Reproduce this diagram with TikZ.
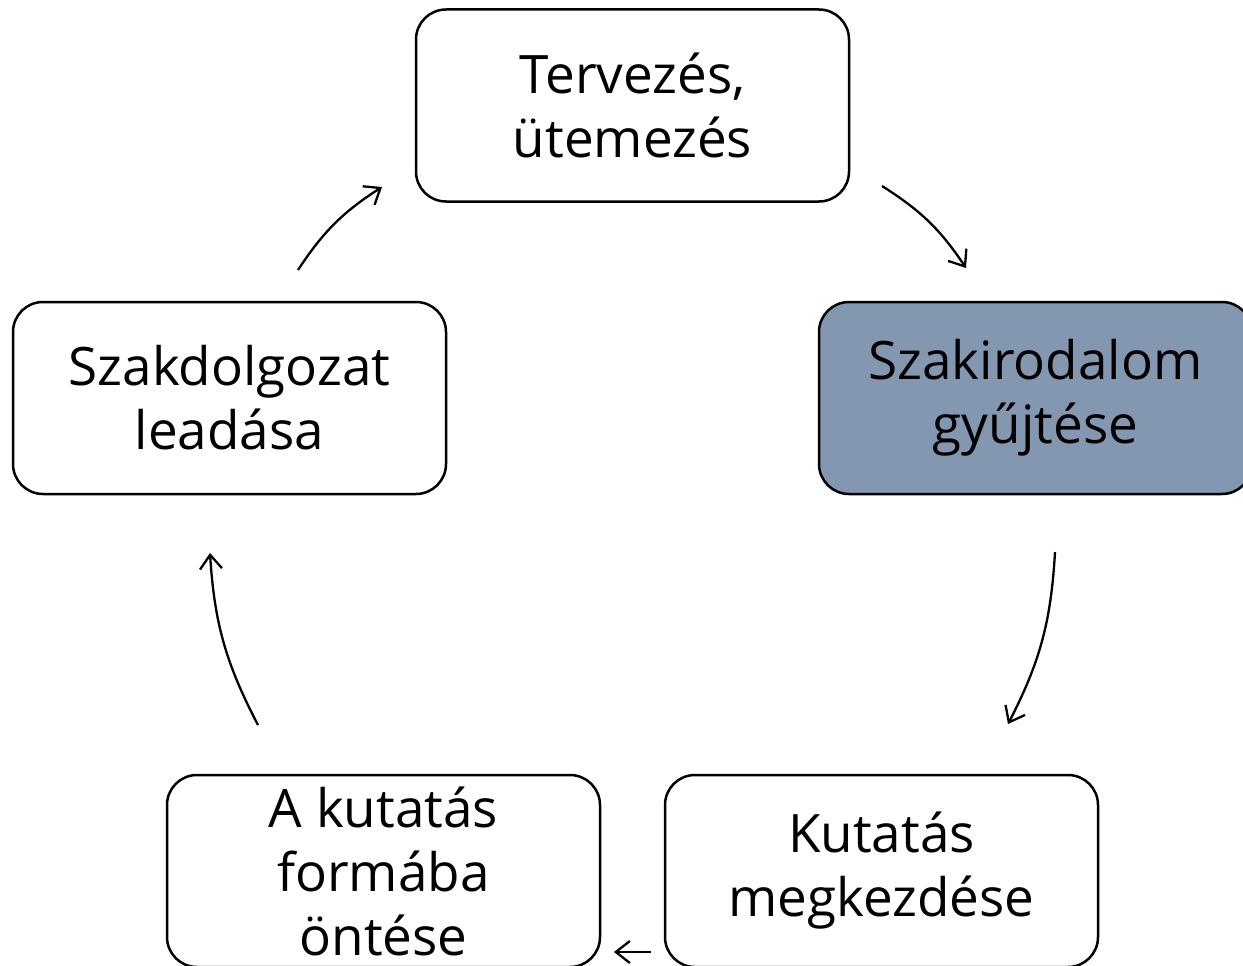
\documentclass[tikz,border=0pt]{standalone}
\usepackage{fontspec}
\setmainfont{Open Sans}
\usetikzlibrary{arrows.meta}
\definecolor{boxfill}{HTML}{8497B0}
\tikzset{
  stagebox/.style={draw=black, line width=2.5pt, rounded corners=30pt, minimum width=433pt, minimum height=192pt, inner sep=0pt, align=center, font=\fontsize{53}{64}\selectfont},
  cyc/.style={line width=2.3pt, -{Straight Barb[length=14pt,width=22pt,line width=2.3pt]}}
}
\begin{document}
\begin{tikzpicture}[x=1pt,y=-1pt]
\useasboundingbox (0,0) rectangle (1243,966);
\node[stagebox, fill=white] (plan) at (632.5,105.5) {Tervezés,\\ütemezés};
\node[stagebox, fill=boxfill] (lit) at (1035.5,398) {Szakirodalom\\gyűjtése};
\node[stagebox, fill=white] (thesis) at (229.5,398) {Szakdolgozat\\leadása};
\node[stagebox, fill=white] (form) at (383.5,871) {A kutatás\\formába\\öntése};
\node[stagebox, fill=white] (research) at (881.5,871) {Kutatás\\megkezdése};
\coordinate (a1s) at (882,186); \coordinate (a1e) at (966,268);
\coordinate (a2s) at (1055,552); \coordinate (a2e) at (1008,724);
\coordinate (a3s) at (651,952); \coordinate (a3e) at (614,952);
\coordinate (a4s) at (258,725); \coordinate (a4e) at (210,553);
\coordinate (a5s) at (298,270); \coordinate (a5e) at (382,187);
\draw[cyc] (a1s) to[bend left=12] (a1e);
\draw[cyc] (a2s) to[bend left=12] (a2e);
\draw[cyc] (a3s) -- (a3e);
\draw[cyc] (a4s) to[bend left=12] (a4e);
\draw[cyc] (a5s) to[bend left=12] (a5e);
\end{tikzpicture}
\end{document}
